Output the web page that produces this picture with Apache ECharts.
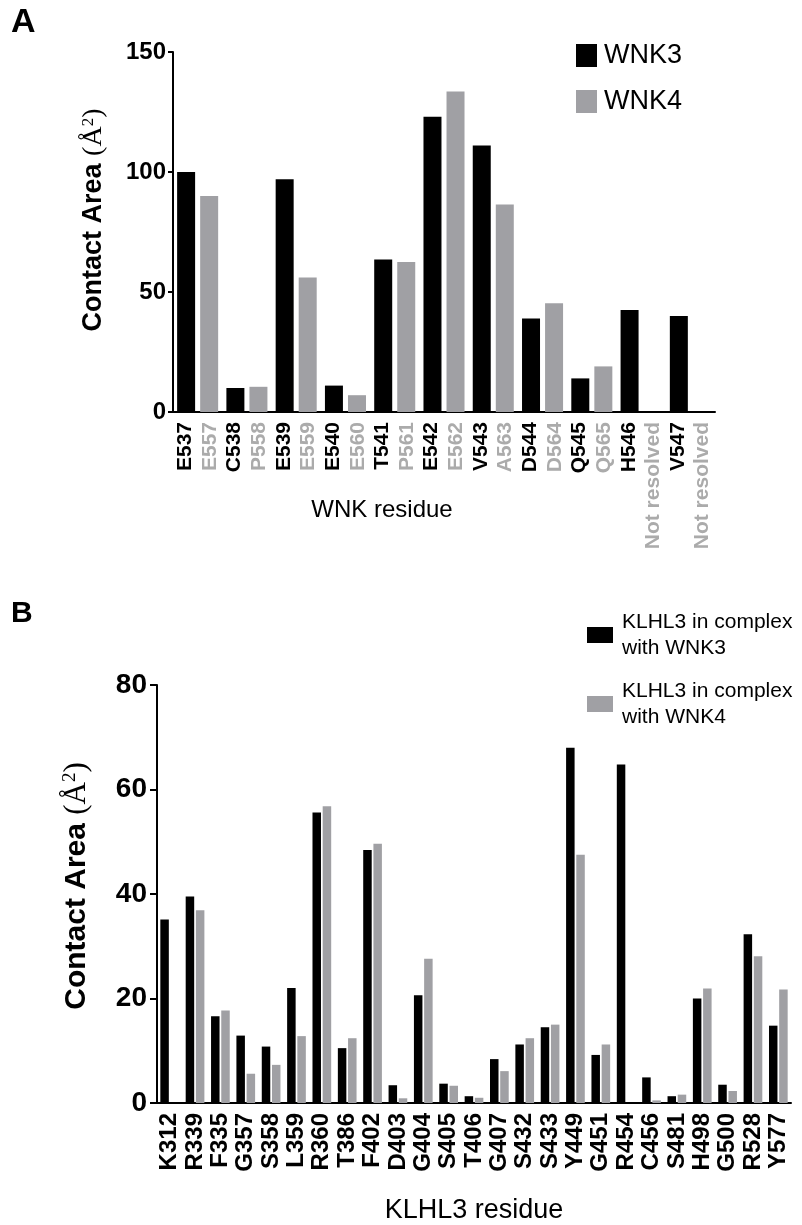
<!DOCTYPE html>
<html>
<head>
<meta charset="utf-8">
<script src="https://cdn.jsdelivr.net/npm/echarts@6/dist/echarts.min.js"></script>
<style>
html,body{margin:0;padding:0;background:#fff;}
#chart{width:802px;height:1225px;}
</style>
</head>
<body>
<div id="chart"></div>
<script>
// ---------- Panel A data ----------
const wnk3Residues = ['E537','C538','E539','E540','T541','E542','V543','D544','Q545','H546','V547'];
const wnk4Residues = ['E557','P558','E559','E560','P561','E562','A563','D564','Q565','Not resolved','Not resolved'];
const wnk3Area = [100, 10, 97, 11, 63.5, 123, 111, 39, 14, 42.5, 40];
const wnk4Area = [90, 10.5, 56, 7, 62.5, 133.5, 86.5, 45.3, 19, null, null];
const ticksA = [0, 50, 100, 150];

// ---------- Panel B data ----------
const klhl3Residues = ['K312','R339','F335','G357','S358','L359','R360','T386','F402','D403','G404','S405','T406','G407','S432','S433','Y449','G451','R454','C456','S481','H498','G500','R528','Y577'];
const withWNK3 = [35.1, 39.5, 16.6, 12.9, 10.8, 22.0, 55.6, 10.5, 48.4, 3.4, 20.6, 3.7, 1.3, 8.4, 11.2, 14.5, 68.0, 9.2, 64.8, 4.9, 1.3, 20.0, 3.5, 32.3, 14.8];
const withWNK4 = [0, 36.9, 17.7, 5.6, 7.3, 12.8, 56.8, 12.4, 49.6, 0.9, 27.6, 3.3, 1.0, 6.1, 12.4, 15.0, 47.5, 11.2, 0, 0.5, 1.6, 21.9, 2.3, 28.1, 21.7];
const ticksB = [0, 20, 40, 60, 80];

const BLACK = '#000000';
const GRAY = '#a0a0a4';
const GRAY_TEXT = '#ababab';
const FONT = 'Liberation Sans, Arial, sans-serif';
const SERIF = 'Liberation Serif, Times New Roman, serif';

// interleaved per-bar labels for panel A
const labelsA = [];
wnk3Residues.forEach((r, i) => { labelsA.push(r); labelsA.push(wnk4Residues[i]); });

function yName(size, shift) {
  return {
    fontFamily: FONT,
    padding: [0, 0, 0, shift],
    rich: {
      a: {fontFamily: FONT, fontWeight: 'bold', fontSize: size, color: '#000'},
      b: {fontFamily: SERIF, fontWeight: 'normal', fontSize: size + 1, color: '#000'},
      s: {fontFamily: SERIF, fontWeight: 'normal', fontSize: Math.round(size * 0.62), color: '#000', verticalAlign: 'top'}
    }
  };
}

const chart = echarts.init(document.getElementById('chart'), null, {renderer: 'canvas'});
chart.setOption({
  animation: false,
  backgroundColor: '#fff',
  textStyle: {fontFamily: FONT},
  title: [
    {text: 'A', left: 11, top: 6, padding: 0, textStyle: {fontFamily: FONT, fontWeight: 'bold', fontSize: 34, color: '#000'}},
    {text: 'B', left: 11, top: 599, padding: 0, textStyle: {fontFamily: FONT, fontWeight: 'bold', fontSize: 30, color: '#000'}}
  ],
  legend: [
    {
      orient: 'vertical', left: 571, top: 37, itemWidth: 21, itemHeight: 23, itemGap: 19,
      icon: 'rect', data: ['WNK3', 'WNK4'],
      textStyle: {fontFamily: FONT, fontSize: 27, color: '#000', padding: [0, 0, 0, 2]}
    },
    {
      orient: 'vertical', left: 582, top: 604, itemWidth: 26, itemHeight: 16, itemGap: 17,
      icon: 'rect', data: ['KLHL3 in complex\nwith WNK3', 'KLHL3 in complex\nwith WNK4'],
      textStyle: {fontFamily: FONT, fontSize: 21, lineHeight: 26, color: '#000', padding: [0, 0, 0, 4]}
    }
  ],
  grid: [
    {left: 173, width: 542, top: 52, height: 360},
    {left: 157, width: 634, top: 685, height: 422}
  ],
  xAxis: [
    {
      type: 'category', gridIndex: 0, data: wnk3Residues,
      axisLine: {lineStyle: {color: '#000', width: 2}},
      axisTick: {alignWithLabel: true, length: 5, lineStyle: {color: '#000', width: 2}},
      axisLabel: {show: false},
      name: 'WNK residue', nameLocation: 'middle', nameGap: 86,
      nameTextStyle: {fontFamily: FONT, fontSize: 24, color: '#000', padding: [0, 124, 0, 0]}
    },
    {
      type: 'category', gridIndex: 0, data: labelsA, position: 'bottom',
      axisLine: {show: false}, axisTick: {show: false}, splitLine: {show: false},
      axisLabel: {
        interval: 0, rotate: 90, margin: 10, fontFamily: FONT, fontWeight: 'bold', fontSize: 21,
        color: function (v, i) { return (i % 2 === 0) ? '#000' : GRAY_TEXT; }
      }
    },
    {
      type: 'category', gridIndex: 1, data: klhl3Residues,
      axisLine: {lineStyle: {color: '#000', width: 2}},
      axisTick: {alignWithLabel: true, length: 5, lineStyle: {color: '#000', width: 2}},
      axisLabel: {interval: 0, rotate: 90, margin: 10, fontFamily: FONT, fontWeight: 'bold', fontSize: 24, color: '#000'},
      name: 'KLHL3 residue', nameLocation: 'middle', nameGap: 94,
      nameTextStyle: {fontFamily: FONT, fontSize: 27, color: '#000'}
    }
  ],
  yAxis: [
    {
      type: 'value', gridIndex: 0, min: ticksA[0], max: ticksA[ticksA.length - 1], interval: 50,
      axisLine: {show: true, lineStyle: {color: '#000', width: 2}},
      axisTick: {show: true, length: 5, lineStyle: {color: '#000', width: 2}},
      splitLine: {show: false},
      axisLabel: {margin: 7, fontFamily: FONT, fontWeight: 'bold', fontSize: 24, color: '#000'},
      name: '{a|Contact Area }{b|(Å}{s|2}{b|)}', nameLocation: 'middle', nameGap: 65, nameRotate: 90,
      nameTextStyle: yName(27, 24)
    },
    {
      type: 'value', gridIndex: 1, min: ticksB[0], max: ticksB[ticksB.length - 1], interval: 20,
      axisLine: {show: true, lineStyle: {color: '#000', width: 2}},
      axisTick: {show: true, length: 7, lineStyle: {color: '#000', width: 2}},
      splitLine: {show: false},
      axisLabel: {margin: 10, fontFamily: FONT, fontWeight: 'bold', fontSize: 28, color: '#000'},
      name: '{a|Contact Area }{b|(Å}{s|2}{b|)}', nameLocation: 'middle', nameGap: 65, nameRotate: 90,
      nameTextStyle: yName(30, 16)
    }
  ],
  series: [
    {name: 'WNK3', type: 'bar', xAxisIndex: 0, yAxisIndex: 0, data: wnk3Area, barWidth: 18, barGap: '28%', itemStyle: {color: BLACK}},
    {name: 'WNK4', type: 'bar', xAxisIndex: 0, yAxisIndex: 0, data: wnk4Area, barWidth: 18, barGap: '28%', itemStyle: {color: GRAY}},
    {name: 'KLHL3 in complex\nwith WNK3', type: 'bar', xAxisIndex: 2, yAxisIndex: 1, data: withWNK3, barWidth: 8.5, barGap: '20%', itemStyle: {color: BLACK}},
    {name: 'KLHL3 in complex\nwith WNK4', type: 'bar', xAxisIndex: 2, yAxisIndex: 1, data: withWNK4, barWidth: 8.5, barGap: '20%', itemStyle: {color: GRAY}}
  ]
});
</script>
</body>
</html>
